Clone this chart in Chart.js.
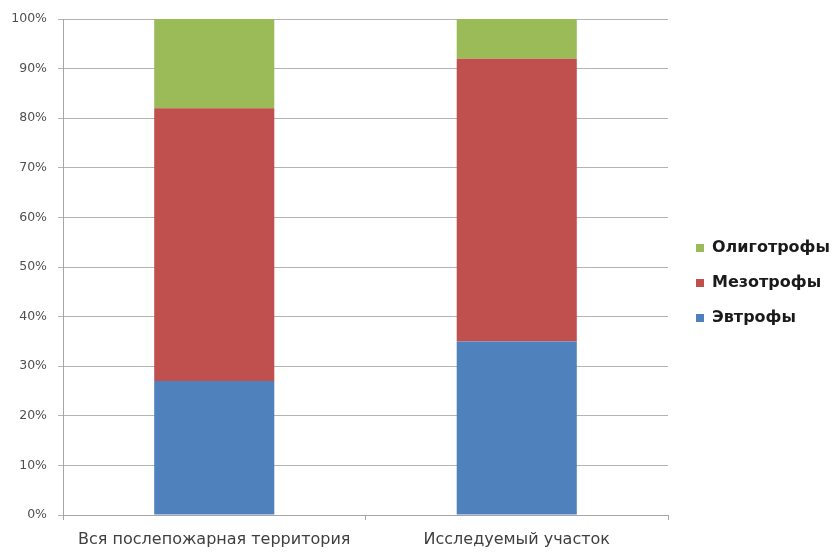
<!DOCTYPE html>
<html>
<head>
<meta charset="utf-8">
<script src="https://cdn.jsdelivr.net/npm/chart.js@4/dist/chart.umd.min.js"></script>
<style>
  html, body { margin: 0; padding: 0; background: #fff; }
  #wrap { width: 833px; height: 553px; }
</style>
</head>
<body>
<div id="wrap"><canvas id="chart" width="833" height="553"></canvas></div>
<script>
// categories and shares (%)
const categories = ["Вся послепожарная территория", "Исследуемый участок"];
const eutrophs = [27, 35];
const mesotrophs = [55, 57];
const oligotrophs = [18, 8];
const yTicks = [0, 10, 20, 30, 40, 50, 60, 70, 80, 90, 100];

const LEGEND_WIDTH = 165;
const LEGEND_GAP = 9;

// fixed legend column with some blank room between the plot and the legend
// (a right axis used as a spacer would cap the legend's width)
const legendGap = {
  id: "legendGap",
  beforeLayout(chart) {
    const lg = chart.legend;
    if (lg && !lg._gapPatched) {
      const fit = lg.fit;
      lg.fit = function () {
        fit.call(this);
        this.width = LEGEND_WIDTH;
      };
      lg._gapPatched = true;
    }
  },
  afterLayout(chart) {
    const lg = chart.legend;
    if (!lg) return;
    lg.left += LEGEND_GAP;
    lg.width -= LEGEND_GAP;
    lg.bottom -= 6;
    lg.height -= 6;
  },
};

const ctx = document.getElementById("chart").getContext("2d");

const config = {
  type: "bar",
  data: {
    labels: categories,
    datasets: [
      { label: "Эвтрофы", data: eutrophs, backgroundColor: "#4F81BD" },
      { label: "Мезотрофы", data: mesotrophs, backgroundColor: "#C0504D" },
      { label: "Олиготрофы", data: oligotrophs, backgroundColor: "#9BBB59" },
    ],
  },
  plugins: [legendGap],
  options: {
    responsive: false,
    animation: false,
    devicePixelRatio: 1,
    layout: { padding: { top: 19, right: 0, bottom: 0, left: 0 } },
    datasets: {
      bar: { categoryPercentage: 1, barPercentage: 0.397 },
    },
    plugins: {
      tooltip: { enabled: false },
      legend: {
        position: "right",
        reverse: true,
        labels: {
          boxWidth: 8,
          boxHeight: 8,
          padding: 19,
          color: "#1a1a1a",
          font: { family: "DejaVu Sans", size: 16, weight: "bold" },
        },
      },
    },
    scales: {
      x: {
        stacked: true,
        grid: {
          offset: true,
          drawOnChartArea: false,
          color: "#a6a6a6",
          tickLength: 5,
        },
        border: { color: "#a6a6a6" },
        ticks: {
          padding: 10,
          color: "#404040",
          font: { family: "DejaVu Sans", size: 16 },
        },
        afterFit: s => { s.height = 38; },
      },
      y: {
        stacked: true,
        min: 0,
        max: 100,
        afterBuildTicks: s => { s.ticks = yTicks.map(v => ({ value: v })); },
        grid: { color: "#b3b3b3", tickLength: 5 },
        border: { color: "#a6a6a6" },
        ticks: {
          padding: 11,
          color: "#505050",
          font: { family: "DejaVu Sans", size: 12.5 },
          callback: v => v + "%",
        },
        afterFit: s => { s.width = 63; },
      },
    },
  },
};

new Chart(ctx, config);
</script>
</body>
</html>
